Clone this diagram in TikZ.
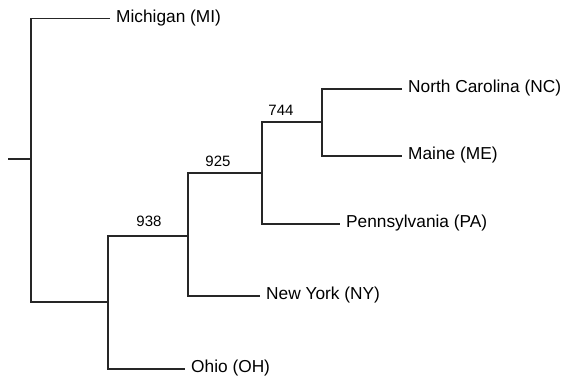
\documentclass[tikz,border=0pt]{standalone}
\usepackage{fontspec}
\setmainfont{Liberation Sans}
\begin{document}
\begin{tikzpicture}[x=1pt,y=-1pt,
  branch/.style={line width=1.2pt, color=black!85},
  leaf/.style={anchor=west, inner xsep=6pt, inner ysep=0pt, font=\fontsize{17.3}{20}\selectfont, text height=0.9em, text depth=0.184em},
  support/.style={anchor=center, inner sep=0pt, font=\fontsize{15}{18}\selectfont, text height=0.9em, text depth=0.184em}]
\useasboundingbox (0,0) rectangle (565,379);
% internal points
\coordinate (stub) at (8,159);
\coordinate (r) at (31,159);
\coordinate (a) at (108,302);
\coordinate (b) at (188,236);
\coordinate (c) at (262,173);
\coordinate (d) at (322,122);
% leaves
\node[leaf] (MI) at (110,18.5) {Michigan (MI)};
\node[leaf] (OH) at (185,369) {Ohio (OH)};
\node[leaf] (NY) at (260,296) {New York (NY)};
\node[leaf] (PA) at (340,224) {Pennsylvania (PA)};
\node[leaf] (NC) at (402,89) {North Carolina (NC)};
\node[leaf] (ME) at (402,156) {Maine (ME)};
% support values
\node[support] (s938) at (149,223) {938};
\node[support] (s925) at (218,163) {925};
\node[support] (s744) at (281,112) {744};
% branches
\draw[branch] (stub) -- (r);
\draw[branch] (MI.west) -| (r) |- (a);
\draw[branch] (b) -| (a) |- (OH.west);
\draw[branch] (c) -| (b) |- (NY.west);
\draw[branch] (d) -| (c) |- (PA.west);
\draw[branch] (NC.west) -| (d) |- (ME.west);
\end{tikzpicture}
\end{document}
